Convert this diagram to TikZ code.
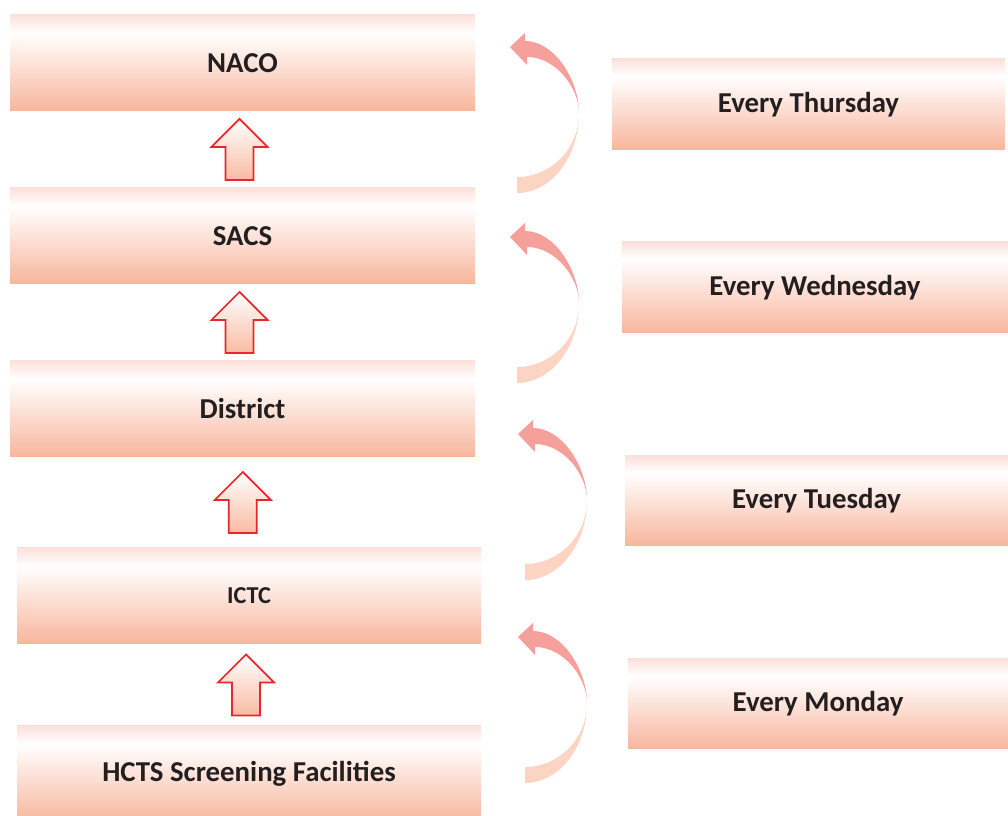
\documentclass[tikz,border=0pt]{standalone}
\usepackage{fontspec}
\setmainfont{Carlito}
\usetikzlibrary{calc}

\definecolor{boxtop}{HTML}{FCE1DB}
\definecolor{boxbot}{HTML}{F8B59C}
\definecolor{arrowline}{HTML}{E8262C}
\definecolor{arrowbot}{HTML}{F9BBA2}
\definecolor{bendtop}{HTML}{F5A09B}
\definecolor{bendbot}{HTML}{FCD4C3}
\definecolor{txt}{HTML}{231F20}

\pgfdeclareverticalshading{levelshade}{100bp}{color(0bp)=(boxbot); color(25bp)=(boxbot); color(65.5bp)=(white); color(75bp)=(boxtop); color(100bp)=(boxtop)}

\tikzset{
	level/.style={shade, shading=levelshade, minimum width=9.3cm, minimum height=1.92cm, inner sep=0pt, text=txt, font=\bfseries\fontsize{16.4}{19}\selectfont},
	day/.style={shade, shading=levelshade, minimum height=1.82cm, inner sep=0pt, text=txt, font=\bfseries\fontsize{16.4}{19}\selectfont},
	blockup/.style={draw=arrowline, line width=1pt, line join=miter, top color=white, bottom color=arrowbot},
}

% block arrow from #1 (lower) up to #2 (upper)
\newcommand{\blockarrow}[2]{%
	\coordinate (m) at ($(#1.north)!0.5!(#2.south)$);
	\draw[blockup] ($(m)+(-0.06,0.61)$) -- ++(0.56,-0.56) -- ++(-0.28,0) -- ++(0,-0.66) -- ++(-0.56,0) -- ++(0,0.66) -- ++(-0.28,0) -- cycle;
}

\begin{document}
\begin{tikzpicture}
	\useasboundingbox (0,0) rectangle (20.16,16.32);
	
	% levels
	\node[level] (naco) at (4.85,15.06) {NACO};
	\node[level] (sacs) at (4.85,11.60) {SACS};
	\node[level] (district) at (4.85,8.14) {District};
	\node[level, minimum width=9.28cm, font=\bfseries\fontsize{13.8}{16}\selectfont] (ictc) at (4.98,4.40) {ICTC};
	\node[level, minimum width=9.28cm] (hcts) at (4.98,0.84) {HCTS Screening Facilities};
	
	% days
	\node[day, minimum width=7.86cm] (thu) at (16.17,14.23) {Every Thursday};
	\node[day, minimum width=7.72cm] (wed) at (16.30,10.57) {Every Wednesday};
	\node[day, minimum width=7.66cm, minimum height=1.80cm] (tue) at (16.33,6.30) {Every Tuesday};
	\node[day, minimum width=7.60cm, minimum height=1.80cm] (mon) at (16.36,2.24) {Every Monday};
	
	\blockarrow{sacs}{naco}
	\blockarrow{district}{sacs}
	\blockarrow{ictc}{district}
	\blockarrow{hcts}{ictc}
	
	% curved arrows
	\foreach \x/\y in {11.58/14.06, 11.58/10.26, 11.74/6.32, 11.74/2.26} {
		\begin{scope}[shift={(\x,\y)}]
			\fill[bendbot] (0,0) .. controls (0,-0.883) and (-0.556,-1.60) .. (-1.24,-1.60) -- (-1.24,-1.28) .. controls (-0.556,-1.28) and (0,-0.707) .. (0,0) -- cycle;
			\fill[bendtop] (-1.38,1.32) -- (-1.08,1.60) -- (-1.08,1.44) .. controls (-0.484,1.44) and (0,0.645) .. (0,0) .. controls (0,0.502) and (-0.466,1.12) .. (-1.04,1.12) -- (-1.04,0.96) -- cycle;
		\end{scope}
	}
\end{tikzpicture}
\end{document}
